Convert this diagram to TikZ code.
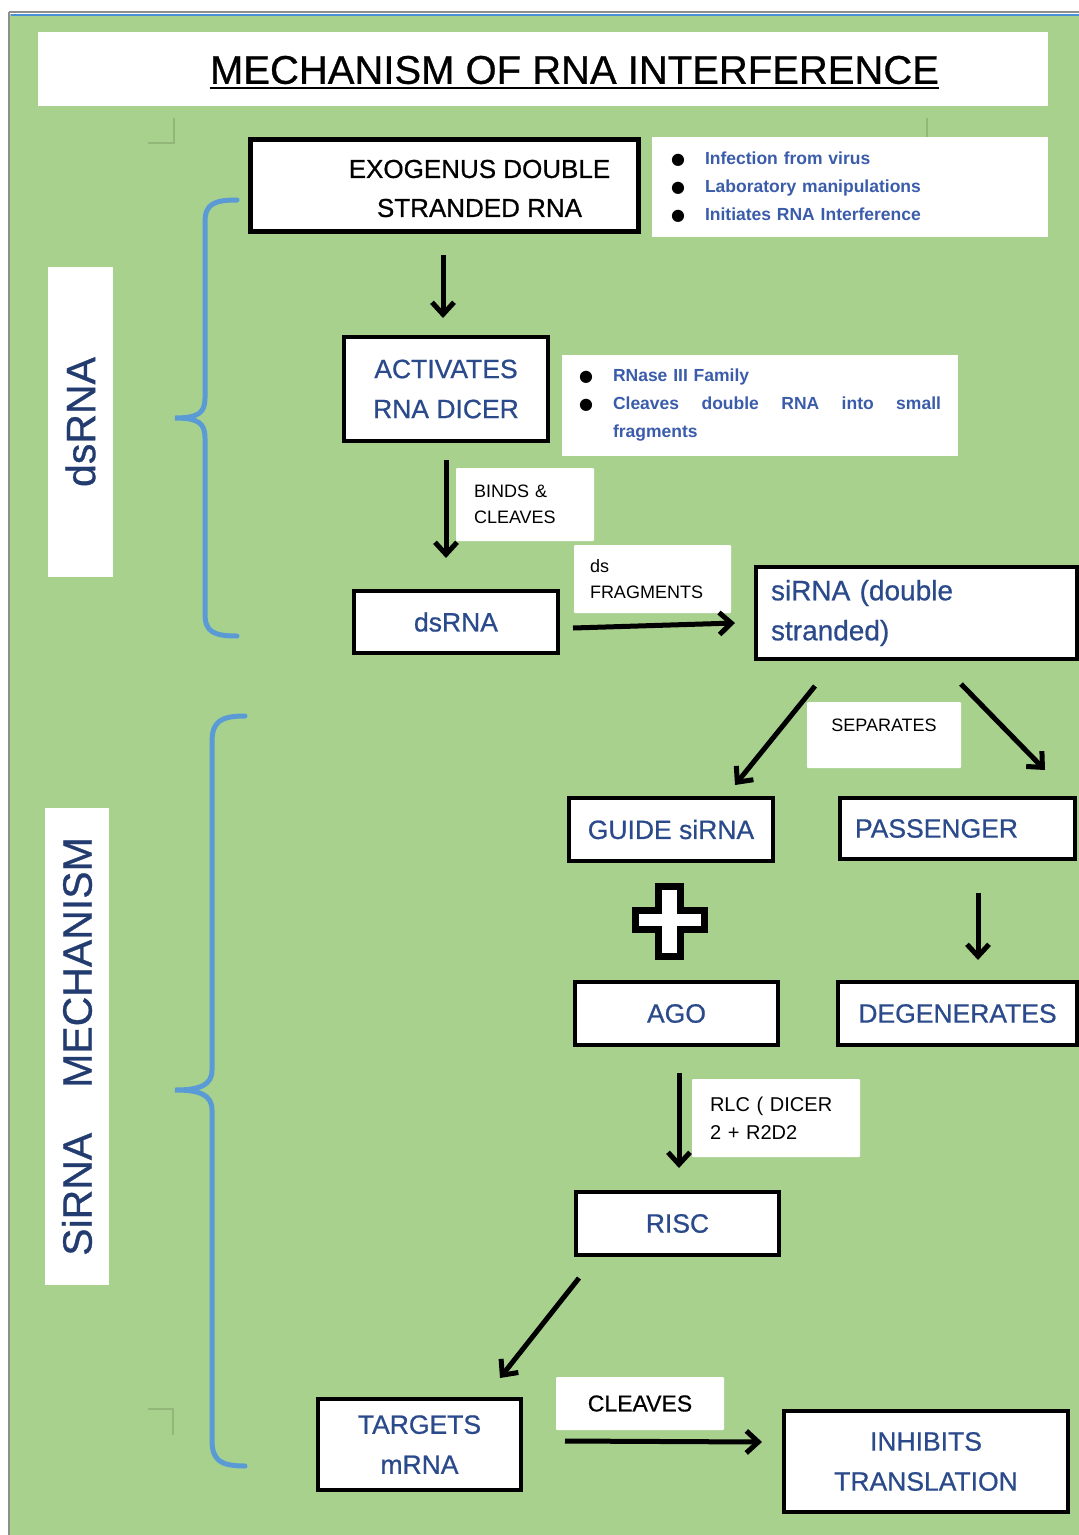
\documentclass[tikz,border=0pt]{standalone}
\usepackage{fontspec}
\setmainfont{Liberation Sans}
\newfontfamily\bulletfont{DejaVu Sans}
\newfontfamily\boxfont[FakeBold=0.7]{Liberation Sans}
\usetikzlibrary{arrows.meta,calc}
\definecolor{sheetgreen}{HTML}{A9D18E}
\definecolor{boxblue}{HTML}{2B4A8B}
\definecolor{noteblue}{HTML}{3A5CAA}
\definecolor{sideblue}{HTML}{233C70}
\definecolor{bracketblue}{HTML}{5B9BD5}
\definecolor{rimgray}{HTML}{8E8E8E}
\definecolor{rimblue}{HTML}{4A8FD6}
\definecolor{markgreen}{HTML}{93B679}
\newcommand{\pxfont}[2]{\fontsize{#1}{#2}\selectfont}
\newcommand{\notebullet}{\makebox[34pt][l]{\color{black}\bulletfont\pxfont{16}{16}●}}
\tikzset{
  stepbox/.style={
    draw=black,
    line width=4pt,
    fill=white,
    inner sep=0pt,
    text=boxblue,
    align=center,
    font=\boxfont\pxfont{26.5}{40}
  },
  notebox/.style={
    fill=white,
    inner sep=0pt,
    text=noteblue,
    font=\bfseries\pxfont{17.5}{28}
  },
  tagbox/.style={
    fill=white,
    rounded corners=1pt,
    inner sep=0pt,
    text=black,
    font=\pxfont{18}{25.5}
  },
  sidebox/.style={
    fill=white,
    inner sep=0pt,
    rotate=90,
    text=sideblue,
    font=\boxfont\pxfont{41}{41}
  },
  flow/.style={line width=5pt, -{Straight Barb[length=12pt,width=22pt]}},
  bracket/.style={draw=bracketblue, line width=5pt, line cap=round},
  cropmark/.style={draw=markgreen, line width=1.2pt}
}

\begin{document}
\begin{tikzpicture}[x=1pt, y=-1pt]
\useasboundingbox (0,0) rectangle (1079,1535);
% sheet
\fill[white] (0,0) rectangle (1079,1535);
\fill[sheetgreen] (10,14) rectangle (1079,1535);
\draw[rimgray, line width=2pt] (9,12) -- (1079,12);
\draw[rimblue, line width=2pt] (11,14.5) -- (1079,14.5);
\draw[rimgray, line width=2pt] (9,12) -- (9,1535);
\draw[cropmark] (148,143) -- (174,143) -- (174,118);
\draw[cropmark] (927,118) -- (927,137);
\draw[cropmark] (148,1409) -- (173,1409) -- (173,1435);

% title
\node[fill=white, minimum width=1010pt, minimum height=74pt] (banner) at (543,69) {};
\node[inner sep=0pt, font=\boxfont\pxfont{40}{40}] (title) at (574.5,70) {MECHANISM OF RNA INTERFERENCE};
\draw[line width=2.5pt] ([yshift=-4pt]title.base west) -- ([yshift=-4pt]title.base east);

% side labels
\node[sidebox, minimum width=310pt, minimum height=65pt] (dsside) at (80.5,422) {dsRNA};
\node[sidebox, minimum width=477pt, minimum height=64pt] (siside) at (77,1046.5) {SiRNA\hspace{45pt}MECHANISM};
\draw[bracket] (237,200) .. controls (214,200) and (205,204) .. (205,222) -- (205,398)
  .. controls (205,413) and (198,418) .. (175,418) .. controls (198,418) and (205,423) .. (205,438)
  -- (205,614) .. controls (205,632) and (214,636) .. (237,636);
\draw[bracket] (245,716) .. controls (220,716) and (212,722) .. (212,742) -- (212,1070)
  .. controls (212,1085) and (200,1090) .. (175,1090) .. controls (200,1090) and (212,1095) .. (212,1110)
  -- (212,1440) .. controls (212,1460) and (220,1466) .. (245,1466);

% boxes
\node[stepbox, line width=5pt, minimum width=388pt, minimum height=92pt,
  label={[text=black, align=center, font=\boxfont\pxfont{26}{39}, xshift=35pt, yshift=-3pt]center:{EXOGENUS DOUBLE\\STRANDED RNA}}] (exo) at (444.5,185.5) {};
\node[stepbox, minimum width=204pt, minimum height=104pt] (dicer) at (446,389) {ACTIVATES\\RNA DICER};
\node[stepbox, minimum width=204pt, minimum height=62pt] (dsrna) at (456,622) {dsRNA};
\node[stepbox, minimum width=321pt, minimum height=92pt, text width=291pt, align=left, font=\boxfont\pxfont{28}{40}] (sirna) at (916.5,613) {siRNA (double\\stranded)};
\node[stepbox, minimum width=204pt, minimum height=63pt] (guide) at (671,829.5) {GUIDE siRNA};
\node[stepbox, minimum width=235pt, minimum height=61pt, text width=205pt, align=left] (passenger) at (957.5,828.5) {PASSENGER};
\node[stepbox, minimum width=203pt, minimum height=63pt] (ago) at (676.5,1013.5) {AGO};
\node[stepbox, minimum width=239pt, minimum height=63pt] (degen) at (957.5,1013.5) {DEGENERATES};
\node[stepbox, minimum width=203pt, minimum height=63pt] (risc) at (677.5,1223.5) {RISC};
\node[stepbox, minimum width=203pt, minimum height=91pt] (targets) at (419.5,1444.5) {TARGETS\\mRNA};
\node[stepbox, minimum width=284pt, minimum height=101pt] (inhibits) at (926,1461.5) {INHIBITS\\TRANSLATION};

% notes
\node[notebox, minimum width=396pt, minimum height=100pt, text width=358pt, align=left] (virusnote) at (850,187)
  {\notebullet Infection from virus\par\notebullet Laboratory manipulations\par\notebullet Initiates RNA Interference};
\node[notebox, minimum width=396pt, minimum height=101pt, text width=362pt, align=left] (dicernote) at (760,405.5)
  {\notebullet RNase III Family\par\notebullet\makebox[328pt][l]{Cleaves\hfill double\hfill RNA\hfill into\hfill small}\par\hspace*{34pt}fragments};

% arrow tags
\node[tagbox, minimum width=138pt, minimum height=73pt, text width=102pt, align=left] (bindtag) at (525,504.5) {BINDS \&\\CLEAVES};
\node[tagbox, minimum width=157pt, minimum height=68pt, text width=125pt, align=left] (fragtag) at (652.5,579) {ds\\FRAGMENTS};
\node[tagbox, minimum width=154pt, minimum height=66pt, text depth=20pt, align=center] (septag) at (884,735) {SEPARATES};
\node[tagbox, minimum width=168pt, minimum height=78pt, text width=132pt, align=left, font=\pxfont{20}{28}] (rlctag) at (776,1118) {RLC ( DICER\\2 + R2D2};
\node[tagbox, minimum width=168pt, minimum height=53pt, align=center, font=\boxfont\pxfont{23}{28}] (cleavetag) at (640,1403.5) {CLEAVES};

% plus sign
\draw[line width=7pt, fill=white, shift={(669.5,921.5)}] (-11,-35) -- (11,-35) -- (11,-11) -- (34.5,-11) -- (34.5,8)
  -- (11,8) -- (11,35) -- (-11,35) -- (-11,8) -- (-34.5,8) -- (-34.5,-11) -- (-11,-11) -- cycle;

% arrows
\draw[flow] ($(exo.south)+(-1.5,21)$) -- ($(dicer.north)+(-3,-17)$);
\draw[flow] ($(dicer.south)+(0,17)$) -- ($(dsrna.north)+(-10,-31)$);
\draw[flow] ($(dsrna.east)+(13,6)$) -- ($(sirna.west)+(-19,10)$);
\draw[flow] ($(sirna.south)+(-101.5,25)$) -- ($(guide.north)+(64,-11)$);
\draw[flow] ($(sirna.south)+(44.5,23)$) -- ($(passenger.north)+(87.5,-26)$);
\draw[flow] ($(passenger.south)+(20.5,32)$) -- ($(degen.north)+(20.5,-20)$);
\draw[flow] ($(ago.south)+(2.5,26)$) -- ($(risc.north)+(1.5,-22)$);
\draw[flow] ($(risc.south)+(-98.5,21)$) -- ($(targets.north)+(80.5,-19)$);
\draw[flow] ($(targets.east)+(42,-3.5)$) -- ($(inhibits.west)+(-20,-19.5)$);
\end{tikzpicture}
\end{document}
